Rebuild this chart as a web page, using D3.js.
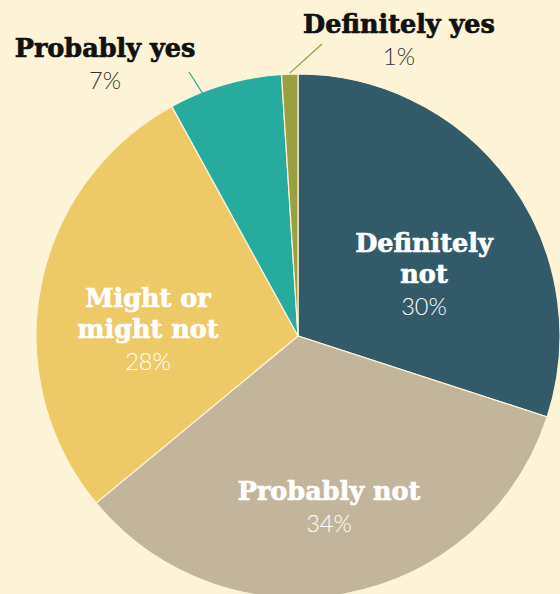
<!DOCTYPE html>
<html><head><meta charset="utf-8">
<script src="https://cdn.jsdelivr.net/npm/d3@7"></script>
<style>
html,body{margin:0;padding:0;background:#fdf4d8;}
svg{display:block;}
</style></head>
<body>
<svg id="chart" width="560" height="594"></svg>
<script>
const categories = ["Definitely not", "Probably not", "Might or might not", "Probably yes", "Definitely yes"];
const values = [30, 34, 28, 7, 1];
const percentLabels = ["30%", "34%", "28%", "7%", "1%"];
const colors = ["#325a68", "#c3b59b", "#edc968", "#28ab9f", "#9aa042"];

const svg = d3.select("#chart");
const W = 560, H = 594;
svg.append("rect").attr("width", W).attr("height", H).attr("fill", "#fdf4d8");

const cx = 298, cy = 336, R = 262;
const g = svg.append("g").attr("transform", `translate(${cx},${cy})`);

const pie = d3.pie().sort(null).value(d => d)(values);
const arc = d3.arc().innerRadius(0).outerRadius(R);

g.selectAll("path.slice").data(pie).join("path")
  .attr("class", "slice")
  .attr("d", arc)
  .attr("fill", (d, i) => colors[i])
  .attr("stroke", "#fdf4d8")
  .attr("stroke-width", 1.2);

const boldFont = "'DejaVu Serif', serif";
const lightFont = "Lato, 'Open Sans', sans-serif";
const boldSize = 25.5, pctSize = 23.5;

function boldText(x, y, t, fill) {
  svg.append("text").attr("x", x).attr("y", y)
    .attr("text-anchor", "middle").attr("fill", fill)
    .attr("stroke", fill).attr("stroke-width", 0.7)
    .attr("font-family", boldFont).attr("font-weight", "bold").attr("font-size", boldSize)
    .text(t);
}
function pctText(x, y, t, fill) {
  svg.append("text").attr("x", x).attr("y", y)
    .attr("text-anchor", "middle").attr("fill", fill)
    .attr("font-family", lightFont).attr("font-weight", 300).attr("font-size", pctSize)
    .text(t);
}

// inside labels
const inside = [
  {i: 0, lines: ["Definitely", "not"], x: 424, y: 252},
  {i: 1, lines: ["Probably not"], x: 329, y: 500},
  {i: 2, lines: ["Might or", "might not"], x: 148, y: 307}
];
inside.forEach(o => {
  o.lines.forEach((t, k) => boldText(o.x, o.y + k * 31, t, "#fff"));
  pctText(o.x, o.y + o.lines.length * 31 + 1, percentLabels[o.i], "#fff");
});

// outside labels with leader lines
const outside = [
  {i: 3, x: 105, y: 57, end: [189, 72], start: [203, 94]},
  {i: 4, x: 399, y: 33, end: [322, 44], start: null}
];
outside.forEach(o => {
  const d = pie[o.i];
  const a = (d.startAngle + d.endAngle) / 2;
  const p1 = o.start ? [o.start[0] - cx, o.start[1] - cy]
                     : [Math.sin(a) * (R + 1), -Math.cos(a) * (R + 1)];
  const p2 = [o.end[0] - cx, o.end[1] - cy];
  g.append("line").attr("x1", p1[0]).attr("y1", p1[1]).attr("x2", p2[0]).attr("y2", p2[1])
    .attr("stroke", colors[o.i]).attr("stroke-width", 1.3);
  boldText(o.x, o.y, categories[o.i], "#111");
  pctText(o.x, o.y + 32, percentLabels[o.i], "#333");
});
</script>
</body></html>
